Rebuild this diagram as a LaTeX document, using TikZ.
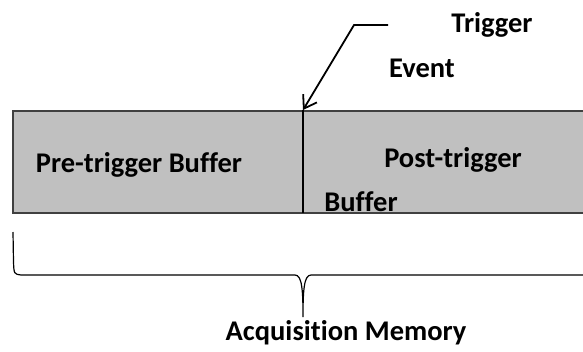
\documentclass[tikz,border=0pt]{standalone}
\usepackage{fontspec}
\setmainfont{Carlito}[Ligatures=NoCommon]
\usetikzlibrary{arrows.meta}
\definecolor{ink}{HTML}{000000}
\definecolor{bufgray}{HTML}{C0C0C0}
\definecolor{edge}{HTML}{404040}

\begin{document}
\begin{tikzpicture}[x=1pt,y=-1pt,font=\bfseries\fontsize{28.5}{34}\selectfont,text=ink,>={Straight Barb[length=12pt,width=16pt]}]
  \useasboundingbox (0,0) rectangle (583,351);
  \clip (0,0) rectangle (583,351);
  % memory block
  \draw[edge,fill=bufgray,line width=1.6pt] (600,111) -- (13,111) -- (13,213) -- (600,213);
  \coordinate (split top) at (303,110);
  \coordinate (split bot) at (303,213);
  \draw[ink,line width=2pt] (split top) -- (split bot);
  \node (pre) at (139,165) {Pre-trigger Buffer};
  \node (post) at (453,160) {Post-trigger};
  \node (buf) at (361,202) {Buffer};
  % trigger pointer
  \node (trig) at (492,25) {Trigger};
  \node (event) at (422,68) {Event};
  \coordinate (hook) at (388,25);
  \draw[->,ink,line width=1.8pt] (hook) -- (354,25) -- (split top);
  % brace under the memory
  \coordinate (cusp) at (303,317);
  \draw[ink,line width=1.2pt] (13,232) -- (13.5,262) .. controls (14,274) .. (21,275)
    -- (295,275) .. controls (302,275) and (303,290) .. (cusp)
    .. controls (303,290) and (304,275) .. (311,275) -- (600,275);
  \node (acq) at (346,333) {Acquisition Memory};
\end{tikzpicture}
\end{document}
